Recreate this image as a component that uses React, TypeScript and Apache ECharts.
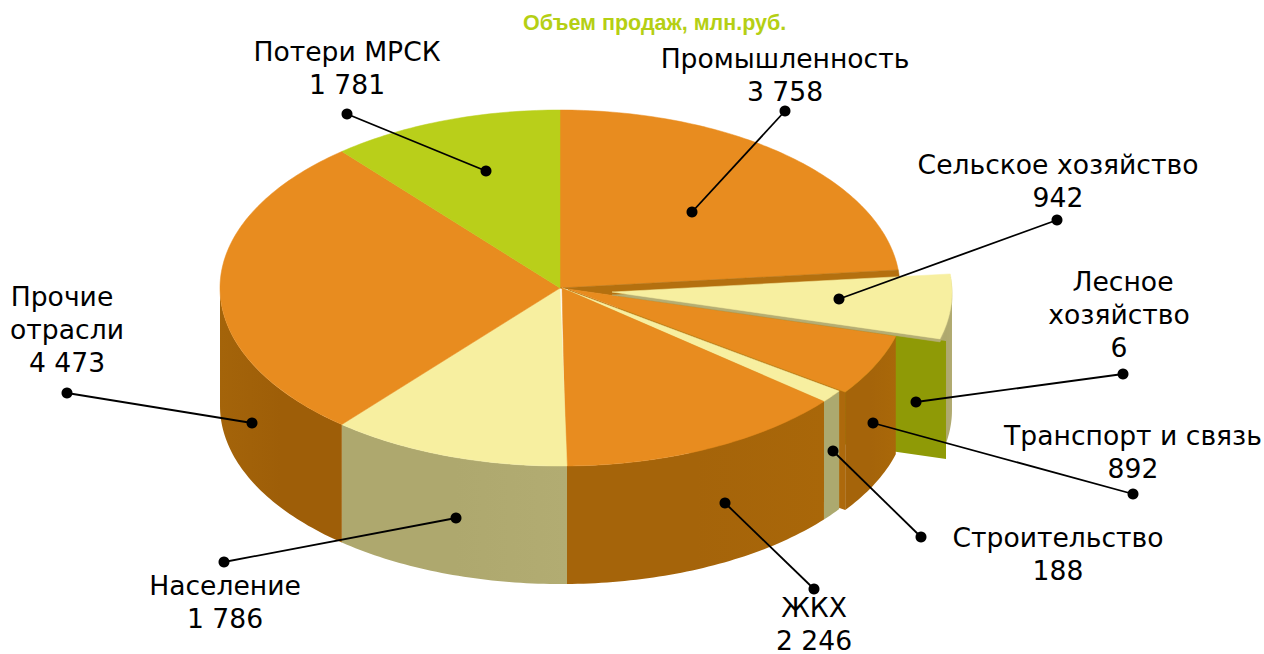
import React, { useEffect, useRef } from "react";
import * as echarts from "echarts";

const titleText = "Объем продаж, млн.руб.";
const categories = ["Промышленность", "Сельское хозяйство", "Лесное хозяйство", "Транспорт и связь", "Строительство", "ЖКХ", "Население", "Прочие отрасли", "Потери МРСК"];
const salesValues = [3758, 942, 6, 892, 188, 2246, 1786, 4473, 1781];
const labelBreaks = ["Промышленность", "Сельское хозяйство", "Лесное\nхозяйство", "Транспорт и связь", "Строительство", "ЖКХ", "Население", "Прочие\nотрасли", "Потери МРСК"];

// layout only
const CX = 560, CY = 288, RX = 340, RY = 178, DEPTH = 118;
const topColors = ["#e88c1f", "#f7efa0", "#8f9a06", "#e88c1f", "#f7efa0", "#e88c1f", "#f7efa0", "#e88c1f", "#b9cf1a"];
const sideColors = ["#a5640a", "#aea86e", "#8f9a06", "#a5640a", "#aca96f", "#a5640a", "#aea86e", "#9e5e08", "#b9cf1a"];
const sideLight = ["#a5640a", "#b1ab71", "#8f9a06", "#a96809", "#aca96f", "#a96709", "#b2ac72", "#a4640a", "#b9cf1a"];
const explode: [number, number][] = [[0, 0], [52, 4], [58, 6], [8, 1], [2, 0], [2, 0], [0, 0], [0, 0], [0, 0]];
const endNudge = [0, 0, 0, 0, 0, -0.58, 0, 0, 0];
const startNudge = [0, 0, 0, 0, 0, 0, -1.09, 0, 0];
const labelCenter: [number, number][] = [[785, 58], [1058, 164], [1119, 281], [1133, 435], [1058, 537], [814, 607], [225, 585], [67, 296], [347, 51]];
const firstLineDx = [0, 0, 4, 0, 0, 0, 0, -5, 0];
const leaderOuter: [number, number][] = [[785, 111], [1057, 220], [1123, 374], [1133, 494], [921, 537], [814, 589], [224, 562], [67, 393], [347, 114]];
const leaderInner: [number, number][] = [[692, 212], [839, 299], [916, 402], [873, 423], [833, 451], [725, 503], [456, 518], [252, 423], [486, 171]];
const LINE_H = 33;

const total = salesValues.reduce((a, b) => a + b, 0);
const startDeg: number[] = [];
const endDeg: number[] = [];
salesValues.reduce((acc, v, i) => {
  const next = acc + (v / total) * 360;
  startDeg[i] = acc + startNudge[i];
  endDeg[i] = next + endNudge[i];
  return next;
}, 0);

const rim = (deg: number, off: [number, number], dy = 0): [number, number] => {
  const a = (deg * Math.PI) / 180;
  return [CX + off[0] + RX * Math.sin(a), CY + off[1] + dy - RY * Math.cos(a)];
};
const arcPts = (a: number, b: number, off: [number, number], dy = 0) => {
  const n = Math.max(2, Math.ceil(Math.abs(b - a)));
  const pts: [number, number][] = [];
  for (let k = 0; k <= n; k++) pts.push(rim(a + ((b - a) * k) / n, off, dy));
  return pts;
};
const poly = (points: [number, number][], fill: any, z2: number, stroke = true) => ({
  type: "polygon",
  z2,
  shape: { points },
  style: { fill, stroke: stroke && typeof fill === "string" ? fill : "none", lineWidth: stroke ? 0.5 : 0 },
});
const fmt = (v: number) => String(v).replace(/\B(?=(\d{3})+$)/g, " ");

const renderSlice = (params: any) => {
  const i = params.dataIndex;
  const off = explode[i];
  const s = startDeg[i], e = endDeg[i];
  const apex: [number, number] = [CX + off[0], CY + off[1]];
  const children: any[] = [];
  const isYellowOut = i === 1;
  const isThin = i === 2;
  const topZ = isYellowOut ? 7 : 5;

  if (isThin) {
    // radial cut face of the tiny exploded slice
    const c = rim(s, off);
    children.push(poly([apex, c, [c[0], c[1] + DEPTH], [apex[0], apex[1] + DEPTH]], topColors[i], 2, false));
  } else {
    if (isYellowOut) {
      // hollow left in the disc by the pulled-out slice
      children.push(poly([[CX, CY], ...arcPts(s, e, [0, 0])], "#b4700f", 5));
      children.push(poly([[apex[0], apex[1] + 3], ...arcPts(s, e, off, 3)], "#b5ae74", 6));
    }
    if (i === 3) {
      const c = rim(e, off);
      children.push(poly([apex, c, [c[0], c[1] + DEPTH], [apex[0], apex[1] + DEPTH]], "#ad690c", 3, false));
    }
    const a = Math.max(s, 90), b = Math.min(e, 270);
    if (b > a) {
      const top = arcPts(a, b, off);
      const bottom = arcPts(a, b, off, DEPTH).reverse();
      const fill = {
        type: "linear", x: 0, y: 0, x2: 1, y2: 0,
        colorStops: [
          { offset: 0, color: b === 270 ? sideLight[i] : sideColors[i] },
          { offset: 0.5, color: sideColors[i] },
          { offset: 1, color: b === 270 ? sideColors[i] : sideLight[i] },
        ],
      };
      children.push(poly([...top, ...bottom], fill, isYellowOut ? 1 : 4, false));
    }
    children.push(poly([apex, ...arcPts(s, e, off)], topColors[i], topZ));
  }

  // leader + dots
  const o = leaderOuter[i], n = leaderInner[i];
  children.push({ type: "line", z2: 10, shape: { x1: o[0], y1: o[1], x2: n[0], y2: n[1] }, style: { stroke: "#000", lineWidth: 1.8 } });
  children.push({ type: "circle", z2: 11, shape: { cx: o[0], cy: o[1], r: 5.5 }, style: { fill: "#000" } });
  children.push({ type: "circle", z2: 11, shape: { cx: n[0], cy: n[1], r: 5.5 }, style: { fill: "#000" } });

  // label
  const lines = [...labelBreaks[i].split("\n"), fmt(salesValues[i])];
  lines.forEach((t, k) => {
    children.push({
      type: "text",
      z2: 12,
      style: {
        text: t,
        x: labelCenter[i][0] + (k === 0 ? firstLineDx[i] : 0),
        y: labelCenter[i][1] + k * LINE_H,
        align: "center",
        verticalAlign: "middle",
        fill: "#000",
        font: '26.6px "DejaVu Sans"',
      },
    });
  });
  return { type: "group", children };
};

export default function App() {
  const ref = useRef<HTMLDivElement>(null);
  useEffect(() => {
    const chart = echarts.init(ref.current!, undefined, { renderer: "svg" });
    chart.setOption({
      animation: false,
      backgroundColor: "#ffffff",
      title: {
        text: titleText,
        left: 523,
        top: 12,
        padding: 0,
        textStyle: { color: "#b5cf14", fontFamily: "Liberation Sans", fontWeight: "bold", fontSize: 21.5 },
      },
      series: [
        {
          type: "custom",
          coordinateSystem: "none",
          name: titleText,
          renderItem: renderSlice,
          data: categories.map((name, i) => ({ name, value: salesValues[i] })),
        },
      ],
    });
    return () => chart.dispose();
  }, []);
  return <div ref={ref} style={{ position: "absolute", left: 0, top: 0, width: 1264, height: 654 }} />;
}
